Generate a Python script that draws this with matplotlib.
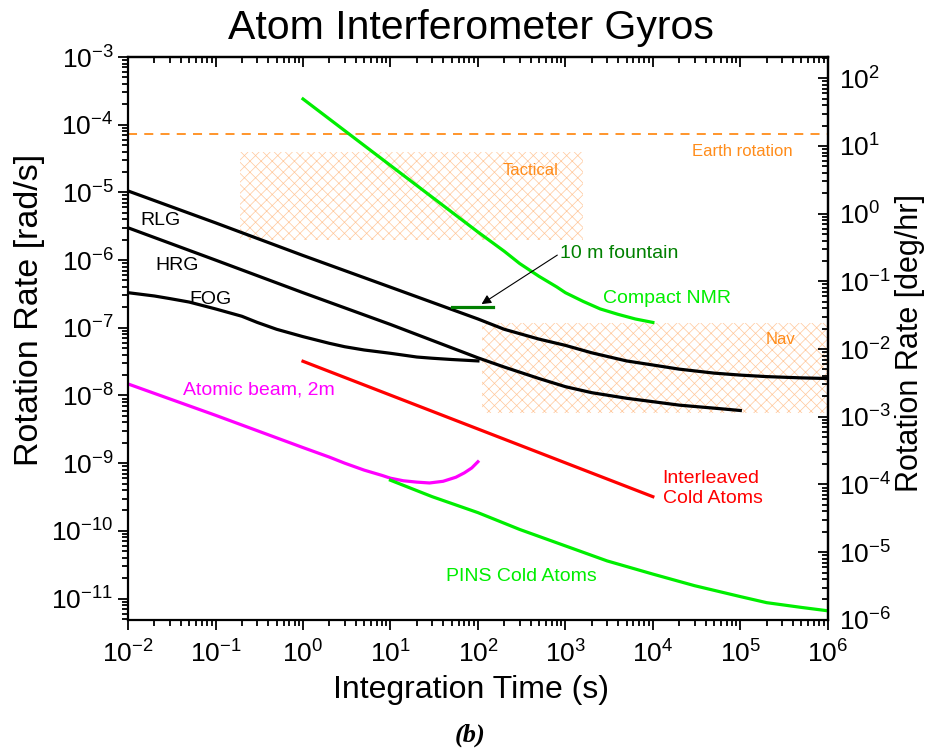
import matplotlib
matplotlib.use("Agg")
import matplotlib.pyplot as plt
from matplotlib.ticker import LogLocator, NullFormatter, FixedLocator

plt.rcParams['font.family'] = ['Liberation Sans', 'DejaVu Sans']
plt.rcParams['mathtext.fontset'] = 'custom'
plt.rcParams['mathtext.rm'] = 'Liberation Sans'
plt.rcParams['mathtext.it'] = 'Liberation Sans:italic'
plt.rcParams['mathtext.default'] = 'regular'
plt.rcParams['hatch.linewidth'] = 0.5

RAD2DEG_HR = 206264.8

# gyro curves (integration time s, rotation rate rad/s)
t_rlg = [1e-2, 1e-1, 1, 10, 100, 200, 500, 1e3, 2e3, 5e3, 1e4, 2e4, 5e4, 1e5, 2e5, 5e5, 1e6]
r_rlg = [1.05e-5, 3.55e-6, 1.17e-6, 3.98e-7, 1.35e-7, 9.5e-8, 6.8e-8, 5.5e-8, 4.27e-8, 3.24e-8,
         2.82e-8, 2.45e-8, 2.14e-8, 2.0e-8, 1.9e-8, 1.82e-8, 1.78e-8]

t_hrg = [1e-2, 1e-1, 1, 10, 100, 200, 500, 1e3, 2e3, 5e3, 1e4, 2e4, 5e4, 1e5]
r_hrg = [3.0e-6, 1.0e-6, 3.3e-7, 1.12e-7, 3.6e-8, 2.63e-8, 1.78e-8, 1.35e-8, 1.1e-8, 9.1e-9,
         8.1e-9, 7.2e-9, 6.5e-9, 6.0e-9]

t_fog = [0.01, 0.02, 0.03, 0.05, 0.1, 0.2, 0.3, 0.5, 1, 2, 3, 5, 10, 20, 30, 50, 100]
r_fog = [3.3e-7, 2.95e-7, 2.7e-7, 2.4e-7, 1.9e-7, 1.48e-7, 1.2e-7, 9.5e-8, 7.4e-8, 5.9e-8,
         5.25e-8, 4.7e-8, 4.2e-8, 3.7e-8, 3.55e-8, 3.4e-8, 3.24e-8]

t_nmr = [1, 10, 100, 200, 300, 500, 800, 1e3, 1.6e3, 2.5e3, 4e3, 6.3e3, 1e4]
r_nmr = [2.4e-4, 2.5e-5, 2.6e-6, 1.35e-6, 8.9e-7, 5.75e-7, 4.0e-7, 3.3e-7, 2.45e-7, 1.9e-7,
         1.58e-7, 1.35e-7, 1.2e-7]

t_fountain = [50, 150]
r_fountain = [2.0e-7, 2.0e-7]

t_inter = [1, 1e4]
r_inter = [3.2e-8, 3.2e-10]

t_beam = [0.01, 0.1, 1, 2, 3, 5, 8, 10, 14, 20, 28, 40, 56, 70, 85, 100]
r_beam = [1.48e-8, 5.1e-9, 1.7e-9, 1.23e-9, 1.0e-9, 7.9e-10, 6.6e-10, 6.0e-10, 5.5e-10, 5.25e-10,
          5.1e-10, 5.4e-10, 6.2e-10, 7.2e-10, 8.5e-10, 1.05e-9]

t_pins = [10, 30, 100, 300, 1e3, 3e3, 1e4, 3e4, 1e5, 2e5, 3e5, 5e5, 1e6]
r_pins = [5.6e-10, 3.2e-10, 1.86e-10, 1.05e-10, 6.0e-11, 3.6e-11, 2.3e-11, 1.55e-11, 1.07e-11,
          8.7e-12, 8.1e-12, 7.4e-12, 6.6e-12]

earth_rate = 7.29e-5

# performance grades (t range, rate range)
tactical_t = [0.19, 1600]
tactical_r = [2.0e-6, 4.0e-5]
nav_t = [110, 1e6]
nav_r = [5.6e-9, 1.17e-7]

x_ticks = [1e-2, 1e-1, 1, 1e1, 1e2, 1e3, 1e4, 1e5, 1e6]
y_ticks = [1e-11, 1e-10, 1e-9, 1e-8, 1e-7, 1e-6, 1e-5, 1e-4, 1e-3]
deg_ticks = [1e-6, 1e-5, 1e-4, 1e-3, 1e-2, 1e-1, 1, 1e1, 1e2]

xlim = (1e-2, 1e6)
ylim = (1e-6 / RAD2DEG_HR, 1e-3)

fig = plt.figure(figsize=(9.28, 7.55), dpi=100)
fig.subplots_adjust(left=0.138, right=0.892, bottom=0.179, top=0.9245)
ax = fig.add_subplot(111)
ax.set_xscale("log")
ax.set_yscale("log")

hatch_col = "#ffc79a"
for bt, br in [(tactical_t, tactical_r), (nav_t, nav_r)]:
    ax.fill_between(bt, [br[0]] * 2, [br[1]] * 2, facecolor="none",
                    edgecolor=hatch_col, hatch="xxx", linewidth=0, zorder=0)

ax.axhline(earth_rate, color="#ff8c1a", lw=1.3, ls=(0, (5, 4)), zorder=1)

lw = 2.3
ax.plot(t_rlg, r_rlg, color="black", lw=lw)
ax.plot(t_hrg, r_hrg, color="black", lw=lw)
ax.plot(t_fog, r_fog, color="black", lw=lw)
ax.plot(t_nmr, r_nmr, color="#00ee00", lw=lw)
ax.plot(t_fountain, r_fountain, color="#008000", lw=lw)
ax.plot(t_inter, r_inter, color="#ff0000", lw=lw)
ax.plot(t_beam, r_beam, color="#ff00ff", lw=lw)
ax.plot(t_pins, r_pins, color="#00ee00", lw=lw)

ax.set_xlim(xlim)
ax.set_ylim(ylim)

# labels on the plot
ax.text(0.0137, 3.8e-6, "RLG", fontsize=14, va="center")
ax.text(0.0205, 8.3e-7, "HRG", fontsize=14, va="center")
ax.text(0.050, 2.65e-7, "FOG", fontsize=14, va="center")
ax.text(404, 2.14e-5, "Tactical", fontsize=12, color="#ff8c1a", ha="center", va="center")
ax.text(4e5, 4.0e-5, "Earth rotation", fontsize=12, color="#ff8c1a", ha="right", va="center")
ax.text(2.9e5, 6.7e-8, "Nav", fontsize=12, color="#ff8c1a", ha="center", va="center")
ax.text(2700, 2.75e-7, "Compact NMR", fontsize=14, color="#00ee00", va="center")
ax.text(0.0426, 1.2e-8, "Atomic beam, 2m", fontsize=14, color="#ff00ff", va="center")
ax.text(1.29e4, 4.2e-10, "Interleaved\nCold Atoms", fontsize=14, color="#ff0000", va="center",
        linespacing=1.25)
ax.text(43.5, 2.1e-11, "PINS Cold Atoms", fontsize=14, color="#00ee00", va="center")
ax.annotate("10 m fountain", xy=(110, 2.24e-7), xytext=(870, 1.26e-6),
            fontsize=14, color="#008000", va="center",
            arrowprops=dict(arrowstyle="-|>", color="black", lw=0.8,
                            shrinkA=0, shrinkB=0, mutation_scale=14,
                            relpos=(0, 0.5)))

# ticks
ax.xaxis.set_major_locator(FixedLocator(x_ticks))
ax.yaxis.set_major_locator(FixedLocator(y_ticks))
for axis in (ax.xaxis, ax.yaxis):
    axis.set_minor_locator(LogLocator(base=10, subs=range(2, 10), numticks=200))
    axis.set_minor_formatter(NullFormatter())
ax.tick_params(which="both", direction="out", width=1.3, labelsize=19,
               top=False, right=False)
ax.tick_params(which="major", length=7)
ax.tick_params(which="minor", length=4)
ax.tick_params(axis="x", pad=8)
for sp in ax.spines.values():
    sp.set_linewidth(1.6)

topax = ax.secondary_xaxis("top", functions=(lambda x: x, lambda x: x))
topax.xaxis.set_major_locator(FixedLocator(x_ticks))
topax.xaxis.set_minor_locator(LogLocator(base=10, subs=range(2, 10), numticks=200))
topax.xaxis.set_major_formatter(NullFormatter())
topax.xaxis.set_minor_formatter(NullFormatter())
topax.tick_params(which="both", direction="in", width=1.3, labeltop=False)
topax.tick_params(which="major", length=7)
topax.tick_params(which="minor", length=4)
topax.spines["top"].set_linewidth(1.6)

rax = ax.secondary_yaxis("right", functions=(lambda r: r * RAD2DEG_HR, lambda d: d / RAD2DEG_HR))
rax.yaxis.set_major_locator(FixedLocator(deg_ticks))
rax.yaxis.set_minor_locator(LogLocator(base=10, subs=range(2, 10), numticks=200))
rax.yaxis.set_minor_formatter(NullFormatter())
rax.tick_params(which="both", direction="in", width=1.3, labelsize=19, pad=8)
rax.tick_params(which="major", length=7)
rax.tick_params(which="minor", length=4)
rax.spines["right"].set_linewidth(1.6)

fig.text(471 / 928, 1 - 28 / 755, "Atom Interferometer Gyros", fontsize=29.5, ha="center", va="center")
fig.text(471 / 928, 1 - 690 / 755, "Integration Time (s)", fontsize=23, ha="center", va="center")
fig.text(30 / 928, 1 - 310 / 755, "Rotation Rate [rad/s]", fontsize=24.5, ha="center", va="center",
         rotation=90)
fig.text(910 / 928, 1 - 343 / 755, "Rotation Rate [deg/hr]", fontsize=22, ha="center", va="center",
         rotation=90)
fig.text(470 / 928, 1 - 735 / 755, "(b)", fontsize=19, ha="center", va="center",
         family="Liberation Serif", weight="bold", style="italic")

plt.savefig("out.png", dpi=100)
print("Saved to out.png")
